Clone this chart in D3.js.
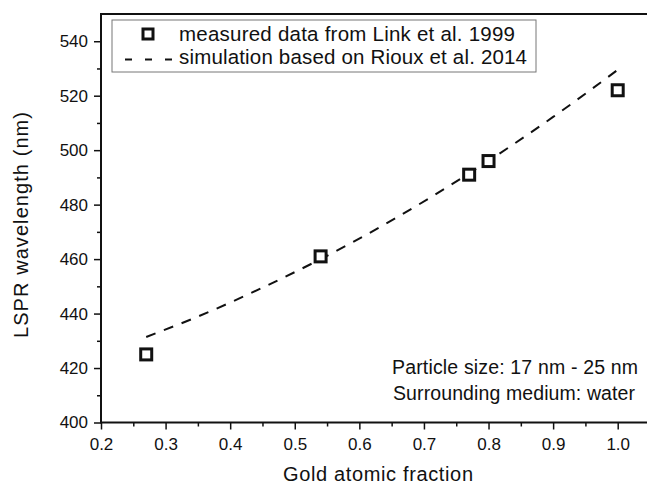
<!DOCTYPE html>
<html>
<head>
<meta charset="utf-8">
<script src="https://cdn.jsdelivr.net/npm/d3@7"></script>
<style>
  body { margin: 0; background: #fff; }
  text { font-family: "Liberation Sans", Arial, sans-serif; fill: #111; }
</style>
</head>
<body>
<svg id="chart"></svg>
<script>
// measured data (Link et al. 1999)
let measuredX = [0.27, 0.54, 0.77, 0.80, 1.00];
let measuredY = [425, 461, 491, 496, 522];

// simulation curve (Rioux et al. 2014)
let simX = [0.27, 0.35, 0.45, 0.54, 0.65, 0.77, 0.90, 1.00];
let simY = [431.4, 438.9, 449.5, 460.0, 474.2, 491.5, 512.2, 529.5];

let xTicks = [0.2, 0.3, 0.4, 0.5, 0.6, 0.7, 0.8, 0.9, 1.0];
let yTicks = [400, 420, 440, 460, 480, 500, 520, 540];

let legendLabels = ["measured data from Link et al. 1999", "simulation based on Rioux et al. 2014"];
let noteLines = ["Particle size: 17 nm - 25 nm", "Surrounding medium: water"];

function drawChart() {
    let w = 647, h = 485;
    let left = 101, right = 650, top = 14, bottom = 422.5;

    let svg = d3.select("#chart")
        .attr("width", w)
        .attr("height", h);

    let x = d3.scaleLinear().domain([0.2, 1.05]).range([left, right]);
    let y = d3.scaleLinear().domain([400, 550]).range([bottom, top]);

    // frame
    svg.append("rect")
        .attr("x", left).attr("y", top)
        .attr("width", right - left).attr("height", bottom - top)
        .attr("fill", "none")
        .attr("stroke", "#111")
        .attr("stroke-width", 2);

    // minor ticks
    let xMinor = d3.range(0.25, 1.05, 0.1);
    let yMinor = d3.range(410, 550, 20);

    let xAxis = d3.axisBottom(x).tickValues(xTicks).tickFormat(d3.format(".1f")).tickSize(7).tickPadding(8);
    let yAxis = d3.axisLeft(y).tickValues(yTicks).tickFormat(d3.format("d")).tickSize(7).tickPadding(6);

    let gx = svg.append("g").attr("transform", `translate(0,${bottom})`).call(xAxis);
    let gy = svg.append("g").attr("transform", `translate(${left},0)`).call(yAxis);
    [gx, gy].forEach(g => {
        g.select(".domain").remove();
        g.selectAll("line").attr("stroke", "#111").attr("stroke-width", 1.5);
        g.selectAll("text").style("font-size", "17px").attr("fill", "#111");
    });

    svg.append("g").attr("transform", `translate(0,${bottom})`)
        .call(d3.axisBottom(x).tickValues(xMinor).tickSize(4).tickFormat(""))
        .call(g => g.select(".domain").remove())
        .selectAll("line").attr("stroke", "#111").attr("stroke-width", 1.5);
    svg.append("g").attr("transform", `translate(${left},0)`)
        .call(d3.axisLeft(y).tickValues(yMinor).tickSize(4).tickFormat(""))
        .call(g => g.select(".domain").remove())
        .selectAll("line").attr("stroke", "#111").attr("stroke-width", 1.5);

    // axis titles
    svg.append("text")
        .attr("x", 378).attr("y", 481)
        .style("font-size", "20px")
        .style("text-anchor", "middle")
        .attr("textLength", 190)
        .attr("lengthAdjust", "spacing")
        .text("Gold atomic fraction");
    svg.append("text")
        .attr("transform", `translate(28,225) rotate(-90)`)
        .style("font-size", "20px")
        .style("text-anchor", "middle")
        .attr("textLength", 226)
        .attr("lengthAdjust", "spacing")
        .text("LSPR wavelength (nm)");

    // simulation line
    let sim = simX.map((d, i) => [d, simY[i]]);
    svg.append("path")
        .datum(sim)
        .attr("fill", "none")
        .attr("stroke", "#111")
        .attr("stroke-width", 2)
        .attr("stroke-dasharray", "10,9")
        .attr("d", d3.line().x(d => x(d[0])).y(d => y(d[1])).curve(d3.curveMonotoneX));

    // measured squares
    svg.selectAll("rect.pt")
        .data(measuredX.map((d, i) => [d, measuredY[i]]))
        .enter()
        .append("rect")
        .classed("pt", true)
        .attr("x", d => x(d[0]) - 5.5)
        .attr("y", d => y(d[1]) - 5.5)
        .attr("width", 11)
        .attr("height", 11)
        .attr("fill", "#fff")
        .attr("stroke", "#111")
        .attr("stroke-width", 3);

    // legend
    let lg = svg.append("g");
    lg.append("rect")
        .attr("x", 112).attr("y", 20)
        .attr("width", 424).attr("height", 52)
        .attr("fill", "#fff")
        .attr("stroke", "#777")
        .attr("stroke-width", 1);
    lg.append("rect")
        .attr("x", 143).attr("y", 29).attr("width", 10).attr("height", 10)
        .attr("fill", "#fff").attr("stroke", "#111").attr("stroke-width", 3);
    lg.append("line")
        .attr("x1", 125).attr("x2", 172).attr("y1", 59.5).attr("y2", 59.5)
        .attr("stroke", "#111").attr("stroke-width", 2)
        .attr("stroke-dasharray", "7,13");
    lg.selectAll("text")
        .data(legendLabels)
        .enter()
        .append("text")
        .attr("x", 179)
        .attr("y", (d, i) => 41 + i * 23)
        .style("font-size", "20.5px")
        .attr("textLength", (d, i) => i === 0 ? 336 : 348)
        .attr("lengthAdjust", "spacing")
        .text(d => d);

    // note
    svg.selectAll("text.note")
        .data(noteLines)
        .enter()
        .append("text")
        .classed("note", true)
        .attr("x", (d, i) => i === 0 ? 392 : 393)
        .attr("y", (d, i) => 374 + i * 26)
        .style("font-size", "19.5px")
        .attr("textLength", (d, i) => i === 0 ? 246 : 242)
        .attr("lengthAdjust", "spacing")
        .text(d => d);
}

window.onload = function() {
    drawChart();
}
</script>
</body>
</html>
